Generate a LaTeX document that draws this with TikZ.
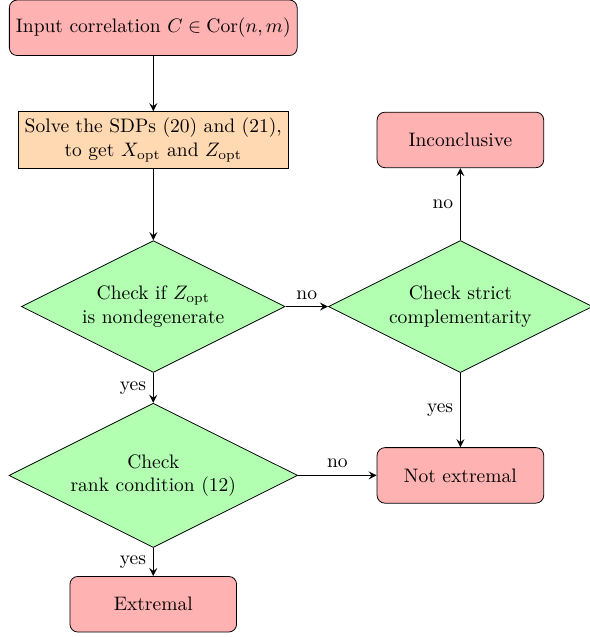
\documentclass[tikz,border=0pt]{standalone}
\usetikzlibrary{shapes.geometric}
\tikzset{
    outcome/.style={rectangle, rounded corners, draw=black, fill=red!30, minimum width=3cm, minimum height=1cm, align=center},
    process/.style={rectangle, draw=black, fill=orange!30, minimum height=1cm, align=center},
    decision/.style={diamond, shape aspect=2, draw=black, fill=green!30, align=center},
    flow/.style={thick, ->, >=stealth}
}
\begin{document}
\begin{tikzpicture}
    \useasboundingbox (-2.76,0.50) rectangle (7.86,-10.97);
    \node[outcome] (input) at (0,0) {Input correlation $C \in \mathrm{Cor}(n,m)$};
    \node[process] (solve) at (0,-2.02) {Solve the SDPs (20) and (21),\\ to get $X_{\mathrm{opt}}$ and $Z_{\mathrm{opt}}$};
    \node[decision] (nondeg) at (0,-5.02) {Check if $Z_{\mathrm{opt}}$\\ is nondegenerate};
    \node[decision] (strict) at (5.53,-5.02) {Check strict\\ complementarity};
    \node[decision] (rank) at (0,-8.06) {Check\\ rank condition (12)};
    \node[outcome] (inconcl) at (5.53,-2.02) {Inconclusive};
    \node[outcome] (notext) at (5.53,-8.06) {Not extremal};
    \node[outcome] (ext) at (0,-10.38) {Extremal};
    \draw[flow] (input) -- (solve);
    \draw[flow] (solve) -- (nondeg);
    \draw[flow] (nondeg) -- node[anchor=south] {no} (strict);
    \draw[flow] (nondeg) -- node[anchor=east] {yes} (rank);
    \draw[flow] (strict) -- node[anchor=east] {no} (inconcl);
    \draw[flow] (strict) -- node[anchor=east] {yes} (notext);
    \draw[flow] (rank) -- node[anchor=south] {no} (notext);
    \draw[flow] (rank) -- node[anchor=east] {yes} (ext);
\end{tikzpicture}
\end{document}
